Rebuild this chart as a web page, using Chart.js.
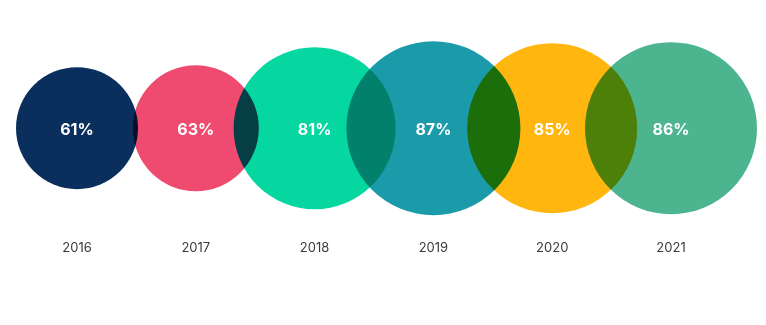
<!DOCTYPE html>
<html>
<head>
<meta charset="utf-8">
<script src="https://cdn.jsdelivr.net/npm/chart.js@4/dist/chart.umd.min.js"></script>
<style>
  html, body { margin: 0; padding: 0; background: #fff; }
  #wrap { width: 766px; height: 325px; }
</style>
</head>
<body>
<div id="wrap"><canvas id="chart"></canvas></div>
<script>
// dados
const years = ['2016', '2017', '2018', '2019', '2020', '2021'];
const percents = [61, 63, 81, 87, 85, 86];
const colors = ['#0a2f5d', '#ef4a6f', '#06d6a0', '#1b9aaa', '#ffb60f', '#4cb48f'];

// círculos sobrepostos escurecem (multiply)
const multiplyPlugin = {
    id: 'multiply',
    beforeDatasetsDraw(chart) {
        chart.ctx.save();
        chart.ctx.globalCompositeOperation = 'multiply';
    },
    afterDatasetsDraw(chart) {
        chart.ctx.restore();
    }
};

// rótulo de porcentagem dentro de cada círculo
const percentLabels = {
    id: 'percentLabels',
    afterDatasetsDraw(chart) {
        const ctx = chart.ctx;
        const meta = chart.getDatasetMeta(0);
        ctx.save();
        ctx.fillStyle = '#ffffff';
        ctx.font = 'bold 16px Inter, "DejaVu Sans", sans-serif';
        ctx.textAlign = 'center';
        ctx.textBaseline = 'middle';
        meta.data.forEach((el, i) => {
            ctx.fillText(percents[i] + '%', el.x, el.y + 2);
        });
        ctx.restore();
    }
};

new Chart(document.getElementById('chart'), {
    type: 'bubble',
    data: {
        labels: years,
        datasets: [{
            data: years.map((y, i) => ({ x: y, y: 0, r: percents[i] })),
            backgroundColor: colors,
            hoverBackgroundColor: colors,
            borderWidth: 0,
            hoverBorderWidth: 0,
            clip: false
        }]
    },
    options: {
        responsive: true,
        maintainAspectRatio: false,
        animation: false,
        layout: { autoPadding: false, padding: { left: 17.6, right: 35.6, top: 0, bottom: 69 } },
        plugins: {
            legend: { display: false },
            tooltip: { enabled: false }
        },
        scales: {
            x: {
                type: 'category',
                offset: true,
                grid: { display: false, drawTicks: false },
                border: { display: false },
                ticks: {
                    padding: 0,
                    color: '#3a3a3a',
                    font: { family: 'Inter, "DejaVu Sans", sans-serif', size: 13 }
                }
            },
            y: {
                display: false,
                min: -7,
                max: 8
            }
        }
    },
    plugins: [multiplyPlugin, percentLabels]
});
</script>
</body>
</html>
